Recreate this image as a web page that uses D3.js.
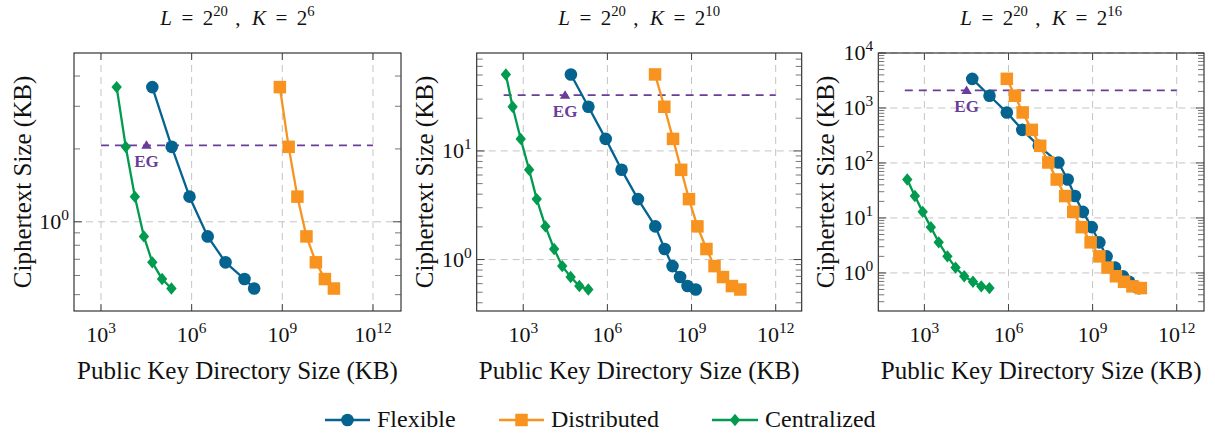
<!DOCTYPE html>
<html><head><meta charset="utf-8">
<script src="https://cdn.jsdelivr.net/npm/d3@7"></script>
<style>
body{margin:0;background:#fff}
svg text{font-family:"Liberation Serif","DejaVu Serif",serif;fill:#111}
</style>
</head><body>
<svg id="c" width="1215" height="433" font-family="Liberation Serif, DejaVu Serif, serif"></svg>
<script>
// ---------------- DATA ----------------
const seriesNames = ["Flexible", "Distributed", "Centralized"];
const titleL = ["20", "20", "20"];
const titleK = ["6", "10", "16"];
const xTickValues = [1e3, 1e6, 1e9, 1e12];
const xTickExponents = ["3", "6", "9", "12"];

// Panel 1: L = 2^20, K = 2^6
const p1Y     = [3.6, 2.04, 1.27, 0.87, 0.68, 0.58, 0.53];
const p1FlexX = [5.0e4, 2.19e5, 8.5e5, 3.39e6, 1.32e7, 5.6e7, 1.17e8];
const p1DistX = [8.3e8, 1.62e9, 3.16e9, 6.3e9, 1.29e10, 2.57e10, 5.1e10];
const p1CentX = [3.3e3, 6.6e3, 1.32e4, 2.63e4, 5.0e4, 1.05e5, 2.14e5];

// Panel 2: L = 2^20, K = 2^10
const p2Y     = [50.6, 25.5, 12.9, 6.7, 3.6, 2.02, 1.25, 0.87, 0.69, 0.57, 0.53];
const p2FlexX = [5.0e4, 2.1e5, 8.7e5, 3.2e6, 1.23e7, 5.1e7, 1.1e8, 2.1e8, 3.9e8, 7.2e8, 1.41e9];
const p2DistX = [5.0e7, 1.07e8, 2.19e8, 4.27e8, 8.1e8, 1.62e9, 3.4e9, 6.6e9, 1.32e10, 2.75e10, 5.5e10];
const p2CentX = [240, 417, 813, 1620, 3020, 6170, 1.26e4, 2.45e4, 4.9e4, 1.0e5, 2.09e5];

// Panel 3: L = 2^20, K = 2^16
const p3Y     = [3390, 1670, 830, 400, 205, 102, 50, 25, 12.9, 6.8, 3.6, 2.0, 1.25, 0.87, 0.69, 0.57, 0.53];
const p3FlexX = [5.1e4, 2.1e5, 8.7e5, 3.1e6, 1.2e7, 6.0e7, 1.29e8, 2.34e8, 4.5e8, 9.3e8, 1.74e9, 3.16e9, 6.3e9, 1.2e10, 2.0e10, 3.16e10, 4.5e10];
const p3DistX = [8.7e5, 1.7e6, 3.2e6, 6.8e6, 1.35e7, 2.63e7, 5.25e7, 1.05e8, 2.04e8, 4.1e8, 8.5e8, 1.74e9, 3.4e9, 6.8e9, 1.32e10, 2.63e10, 5.25e10];
const p3CentY = [50, 25, 12.9, 6.8, 3.6, 2.0, 1.25, 0.87, 0.69, 0.57, 0.53];
const p3CentX = [245, 457, 871, 1700, 3240, 6610, 1.29e4, 2.63e4, 5.4e4, 1.07e5, 2.09e5];

// EG reference (point + dashed horizontal line)
const egX = [3.2e4, 3.1e4, 3.2e4];
const egY = [2.07, 32.6, 2090];
const egLineFrom = [1e3, 200, 200];
const egLineTo = [1e12, 1e12, 1e12];

// ---------------- LAYOUT / STYLE ----------------
const FONT = "Liberation Serif, DejaVu Serif, serif";
const colors = {Flexible: "#04638f", Distributed: "#f7931e", Centralized: "#009b4e"};
const egColor = "#6a3d9a";
const TOP = 53, BOTTOM = 311;
const layout = [
  {x0: 74,    x1: 401,  xDom: [128, 8.46e12],  yDom: [0.428, 4.98], ylabX: 22},
  {x0: 476.7, x1: 801.7, xDom: [21.9, 8.46e12], yDom: [0.336, 79.7], ylabX: 424},
  {x0: 878.3, x1: 1204, xDom: [22.7, 9.4e12],  yDom: [0.203, 1e4],  ylabX: 825}
];
const panelSeries = [
  [{name: "Flexible", x: p1FlexX, y: p1Y}, {name: "Distributed", x: p1DistX, y: p1Y}, {name: "Centralized", x: p1CentX, y: p1Y}],
  [{name: "Flexible", x: p2FlexX, y: p2Y}, {name: "Distributed", x: p2DistX, y: p2Y}, {name: "Centralized", x: p2CentX, y: p2Y}],
  [{name: "Flexible", x: p3FlexX, y: p3Y}, {name: "Distributed", x: p3DistX, y: p3Y}, {name: "Centralized", x: p3CentX, y: p3CentY}]
];

const svg = d3.select("#c");
const gridColor = "#c4c4c4";
const TICK_FS = 22, LABEL_FS = 25;

function txt(sel) {
  return sel.append("text").attr("font-family", FONT).style("fill", "#111");
}

function marker(g, name, cx, cy) {
  const c = colors[name];
  if (name === "Flexible") {
    g.append("circle").attr("cx", cx).attr("cy", cy).attr("r", 6.3).attr("fill", c);
  } else if (name === "Distributed") {
    const s = 12.5;
    g.append("rect").attr("x", cx - s/2).attr("y", cy - s/2).attr("width", s).attr("height", s).attr("fill", c);
  } else {
    const w = 5.2, h = 6.2;
    g.append("path").attr("d", `M${cx},${cy-h}L${cx+w},${cy}L${cx},${cy+h}L${cx-w},${cy}Z`).attr("fill", c);
  }
}

function powLabel(t, exp, fs) {
  t.append("tspan").text("10");
  t.append("tspan").attr("dy", -fs * 0.42).attr("font-size", fs * 0.7).text(exp);
}

layout.forEach((P, i) => {
  const x = d3.scaleLog().domain(P.xDom).range([P.x0, P.x1]);
  const y = d3.scaleLog().domain(P.yDom).range([BOTTOM, TOP]);
  const g = svg.append("g");

  // y ticks
  const eMin = Math.floor(Math.log10(P.yDom[0])), eMax = Math.ceil(Math.log10(P.yDom[1]));
  const yMajor = [], yMinor = [];
  for (let e = eMin; e <= eMax; e++) {
    const v = Math.pow(10, e);
    if (v >= P.yDom[0] * 0.999 && v <= P.yDom[1] * 1.001) yMajor.push({v, e});
    for (let k = 2; k <= 9; k++) {
      const m = k * v;
      if (m > P.yDom[0] && m < P.yDom[1]) yMinor.push(m);
    }
  }

  // grid
  xTickValues.forEach(v => {
    g.append("line").attr("x1", x(v)).attr("x2", x(v)).attr("y1", TOP).attr("y2", BOTTOM)
      .attr("stroke", gridColor).attr("stroke-width", 1).attr("stroke-dasharray", "7,5");
  });
  yMajor.forEach(d => {
    g.append("line").attr("x1", P.x0).attr("x2", P.x1).attr("y1", y(d.v)).attr("y2", y(d.v))
      .attr("stroke", gridColor).attr("stroke-width", 1).attr("stroke-dasharray", "7,5");
  });

  // EG dashed line
  g.append("line").attr("x1", x(egLineFrom[i])).attr("x2", x(egLineTo[i]))
    .attr("y1", y(egY[i])).attr("y2", y(egY[i]))
    .attr("stroke", egColor).attr("stroke-width", 1.8).attr("stroke-dasharray", "8,6");

  // series
  panelSeries[i].forEach(s => {
    const pts = s.x.map((xv, j) => [x(xv), y(s.y[j])]);
    g.append("path").attr("d", d3.line()(pts)).attr("fill", "none")
      .attr("stroke", colors[s.name]).attr("stroke-width", 2.3).attr("stroke-linejoin", "round");
    pts.forEach(p => marker(g, s.name, p[0], p[1]));
  });

  // EG point + label
  const ex = x(egX[i]), ey = y(egY[i]);
  g.append("path").attr("d", `M${ex},${ey-5}L${ex+5.2},${ey+3.5}L${ex-5.2},${ey+3.5}Z`).attr("fill", egColor);
  txt(g).attr("x", ex).attr("y", ey + 21.5).attr("text-anchor", "middle")
    .attr("font-size", 17).attr("font-weight", "bold").style("fill", egColor).text("EG");

  // frame
  g.append("rect").attr("x", P.x0).attr("y", TOP).attr("width", P.x1 - P.x0).attr("height", BOTTOM - TOP)
    .attr("fill", "none").attr("stroke", "#222").attr("stroke-width", 1.1);

  // x ticks (major, top & bottom)
  xTickValues.forEach((v, j) => {
    const xx = x(v);
    g.append("line").attr("x1", xx).attr("x2", xx).attr("y1", BOTTOM).attr("y2", BOTTOM - 7).attr("stroke", "#444");
    g.append("line").attr("x1", xx).attr("x2", xx).attr("y1", TOP).attr("y2", TOP + 7).attr("stroke", "#444");
    const t = txt(g).attr("x", xx).attr("y", 342).attr("text-anchor", "middle").attr("font-size", TICK_FS);
    powLabel(t, xTickExponents[j], TICK_FS);
  });

  // y ticks
  yMajor.forEach(d => {
    const yy = y(d.v);
    g.append("line").attr("x1", P.x0).attr("x2", P.x0 + 8).attr("y1", yy).attr("y2", yy).attr("stroke", "#444");
    g.append("line").attr("x1", P.x1).attr("x2", P.x1 - 8).attr("y1", yy).attr("y2", yy).attr("stroke", "#444");
    const t = txt(g).attr("x", P.x0 - 5).attr("y", yy + TICK_FS * 0.33).attr("text-anchor", "end").attr("font-size", TICK_FS);
    powLabel(t, String(d.e), TICK_FS);
  });
  yMinor.forEach(m => {
    const yy = y(m);
    g.append("line").attr("x1", P.x0).attr("x2", P.x0 + 6).attr("y1", yy).attr("y2", yy).attr("stroke", "#555").attr("stroke-width", 0.8);
    g.append("line").attr("x1", P.x1).attr("x2", P.x1 - 6).attr("y1", yy).attr("y2", yy).attr("stroke", "#555").attr("stroke-width", 0.8);
  });

  // axis labels
  const cx = (P.x0 + P.x1) / 2;
  txt(g).attr("x", cx).attr("y", 379).attr("text-anchor", "middle").attr("font-size", LABEL_FS)
    .text("Public Key Directory Size (KB)");
  txt(g).attr("transform", `translate(${P.ylabX},${(TOP + BOTTOM) / 2}) rotate(-90)`)
    .attr("text-anchor", "middle").attr("dy", "0.35em").attr("font-size", LABEL_FS)
    .text("Ciphertext Size (KB)");

  // title
  const T = 21;
  const tt = txt(g).attr("x", cx).attr("y", 25).attr("text-anchor", "middle").attr("font-size", T);
  tt.append("tspan").attr("font-style", "italic").text("L");
  tt.append("tspan").attr("dx", T * 0.45).text("=");
  tt.append("tspan").attr("dx", T * 0.45).text("2");
  tt.append("tspan").attr("dy", -T * 0.42).attr("font-size", T * 0.7).text(titleL[i]);
  tt.append("tspan").attr("dy", T * 0.42).attr("dx", T * 0.35).text(",");
  tt.append("tspan").attr("dx", T * 0.55).attr("font-style", "italic").text("K");
  tt.append("tspan").attr("dx", T * 0.45).text("=");
  tt.append("tspan").attr("dx", T * 0.45).text("2");
  tt.append("tspan").attr("dy", -T * 0.42).attr("font-size", T * 0.7).text(titleK[i]);
});

// legend
const legendLineX = [[325, 370], [499, 544], [712, 758]];
const LY = 420;
seriesNames.forEach((name, k) => {
  const [a, b] = legendLineX[k];
  svg.append("line").attr("x1", a).attr("x2", b).attr("y1", LY).attr("y2", LY)
    .attr("stroke", colors[name]).attr("stroke-width", 2.3);
  marker(svg, name, (a + b) / 2, LY);
  txt(svg).attr("x", b + 7).attr("y", LY + 7).attr("font-size", 24).text(name);
});
</script>
</body></html>
